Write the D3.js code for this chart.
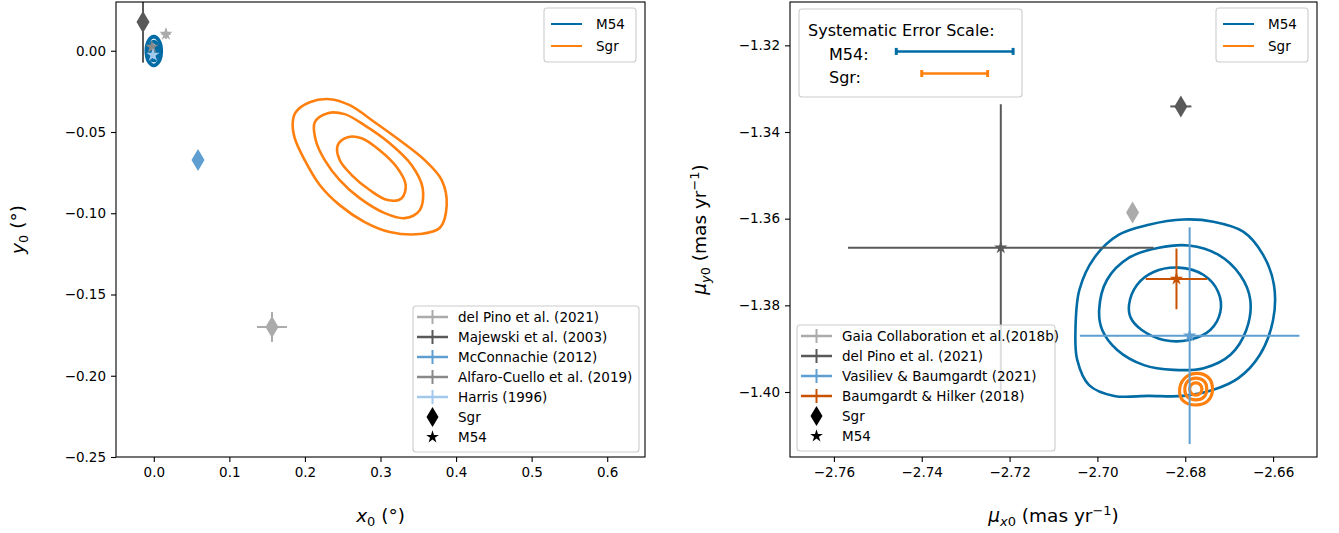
<!DOCTYPE html>
<html><head><meta charset="utf-8">
<script src="https://cdn.jsdelivr.net/npm/d3@7"></script>
<style>body{margin:0;background:#fff} text{font-family:"DejaVu Sans",sans-serif;fill:#000}</style>
</head><body><svg id="c" width="1339" height="533"></svg>
<script>
// ---------------- DATA ----------------
const leftXTicks = [0.0, 0.1, 0.2, 0.3, 0.4, 0.5, 0.6];
const leftXTickLabels = ["0.0","0.1","0.2","0.3","0.4","0.5","0.6"];
const leftYTicks = [0.00, -0.05, -0.10, -0.15, -0.20, -0.25];
const leftYTickLabels = ["0.00","\u22120.05","\u22120.10","\u22120.15","\u22120.20","\u22120.25"];
const rightXTicks = [-2.76, -2.74, -2.72, -2.70, -2.68, -2.66];
const rightXTickLabels = ["\u22122.76","\u22122.74","\u22122.72","\u22122.70","\u22122.68","\u22122.66"];
const rightYTicks = [-1.32, -1.34, -1.36, -1.38, -1.40];
const rightYTickLabels = ["\u22121.32","\u22121.34","\u22121.36","\u22121.38","\u22121.40"];

const leftDomainX = [-0.05, 0.65];
const leftDomainY = [-0.25, 0.03];
const rightDomainX = [-2.77, -2.65];
const rightDomainY = [-1.415, -1.31];

const objects = ["M54", "Sgr"];
const objectColors = ["#006BA4", "#FF800E"];

// left panel references
const leftRefs = ["del Pino et al. (2021)", "Majewski et al. (2003)", "McConnachie (2012)", "Alfaro-Cuello et al. (2019)", "Harris (1996)"];
const leftRefColors = ["#ABABAB", "#595959", "#5F9ED1", "#898989", "#A2C8EC"];
// left panel points
const leftPtRef  = [0, 0, 1, 2, 3, 4];
const leftPtObj  = ["M54", "Sgr", "Sgr", "Sgr", "M54", "M54"];
const leftPtX    = [0.0161, 0.1564, -0.0143, 0.0585, -0.0024, -0.0011];
const leftPtY    = [0.0103, -0.1700, 0.0177, -0.0672, 0.0023, -0.0026];
const leftPtXErr = [0.006, 0.0198, 0.006, 0, 0.002, 0];
const leftPtYErr = [0.003, 0.0092, 0.025, 0, 0.002, 0];

// right panel references
const rightRefs = ["Gaia Collaboration et al.(2018b)", "del Pino et al. (2021)", "Vasiliev & Baumgardt (2021)", "Baumgardt & Hilker (2018)"];
const rightRefColors = ["#ABABAB", "#595959", "#5F9ED1", "#C85200"];
const rightPtRef  = [0, 1, 1, 2, 3];
const rightPtObj  = ["Sgr", "M54", "Sgr", "M54", "M54"];
const rightPtX    = [-2.692, -2.722, -2.681, -2.679, -2.682];
const rightPtY    = [-1.3586, -1.3667, -1.3341, -1.387, -1.3739];
const rightPtXErr = [0, 0.0348, 0.0024, 0.025, 0.007];
const rightPtYErr = [0, 0.0331, 0.0005, 0.025, 0.007];

// systematic error scale
const sysLabels = ["M54:", "Sgr:"];
const sysX   = [-2.7325, -2.7325];
const sysY   = [-1.3214, -1.3265];
const sysErr = [0.0133, 0.0075];

// contours (x, y)
const leftSgrContours = [
  [[0.1878,-0.0378],[0.2063,-0.0317],[0.2328,-0.0298],[0.2593,-0.0335],[0.2923,-0.0440],[0.3254,-0.0551],[0.3585,-0.0673],[0.3810,-0.0796],[0.3876,-0.0950],[0.3783,-0.1091],[0.3519,-0.1128],[0.3122,-0.1115],[0.2791,-0.1054],[0.2460,-0.0950],[0.2196,-0.0826],[0.1997,-0.0673],[0.1865,-0.0538],[0.1839,-0.0440]],
  [[0.2130,-0.0440],[0.2302,-0.0384],[0.2526,-0.0390],[0.2791,-0.0459],[0.3122,-0.0569],[0.3413,-0.0704],[0.3558,-0.0845],[0.3519,-0.0981],[0.3320,-0.1030],[0.3056,-0.0999],[0.2725,-0.0907],[0.2460,-0.0796],[0.2262,-0.0673],[0.2143,-0.0551]],
  [[0.2434,-0.0581],[0.2566,-0.0532],[0.2751,-0.0538],[0.2989,-0.0612],[0.3214,-0.0716],[0.3333,-0.0826],[0.3280,-0.0907],[0.3095,-0.0919],[0.2857,-0.0857],[0.2619,-0.0765],[0.2460,-0.0673]]
];
const leftM54Contours = [
  [[-0.0099,-0.0002],[-0.0070,0.0061],[0,0.0087],[0.0070,0.0061],[0.0099,-0.0002],[0.0070,-0.0065],[0,-0.0091],[-0.0070,-0.0065]],
  [[-0.0062,-0.0002],[-0.0044,0.0039],[0,0.0056],[0.0044,0.0039],[0.0062,-0.0002],[0.0044,-0.0043],[0,-0.0060],[-0.0044,-0.0043]],
  [[-0.0028,-0.0002],[-0.0020,0.0019],[0,0.0028],[0.0020,0.0019],[0.0028,-0.0002],[0.0020,-0.0023],[0,-0.0032],[-0.0020,-0.0023]]
];
const rightM54Contours = [
  [[-2.7050,-1.3857],[-2.7041,-1.3764],[-2.7007,-1.3690],[-2.6951,-1.3637],[-2.6883,-1.3614],[-2.6804,-1.3602],[-2.6736,-1.3607],[-2.6668,-1.3630],[-2.6623,-1.3683],[-2.6598,-1.3753],[-2.6600,-1.3834],[-2.6630,-1.3914],[-2.6679,-1.3968],[-2.6736,-1.3995],[-2.6804,-1.4009],[-2.6883,-1.4009],[-2.6962,-1.4009],[-2.7019,-1.3984],[-2.7046,-1.3926]],
  [[-2.6996,-1.3810],[-2.6978,-1.3741],[-2.6928,-1.3690],[-2.6860,-1.3667],[-2.6792,-1.3662],[-2.6725,-1.3683],[-2.6675,-1.3730],[-2.6652,-1.3787],[-2.6661,-1.3857],[-2.6697,-1.3914],[-2.6758,-1.3945],[-2.6826,-1.3949],[-2.6894,-1.3938],[-2.6955,-1.3903],[-2.6989,-1.3857]],
  [[-2.6928,-1.3799],[-2.6910,-1.3753],[-2.6872,-1.3723],[-2.6815,-1.3713],[-2.6758,-1.3730],[-2.6725,-1.3769],[-2.6720,-1.3815],[-2.6743,-1.3857],[-2.6792,-1.3880],[-2.6849,-1.3880],[-2.6899,-1.3857],[-2.6924,-1.3829]]
];
const rightSgrContours = [
  [[-2.6813,-1.3998],[-2.6803,-1.3970],[-2.6776,-1.3957],[-2.6748,-1.3966],[-2.6738,-1.3993],[-2.6748,-1.4020],[-2.6776,-1.4030],[-2.6805,-1.4020]],
  [[-2.6801,-1.3995],[-2.6794,-1.3975],[-2.6776,-1.3968],[-2.6757,-1.3975],[-2.6751,-1.3993],[-2.6757,-1.4011],[-2.6776,-1.4018],[-2.6795,-1.4011]],
  [[-2.6790,-1.3993],[-2.6786,-1.3983],[-2.6776,-1.3979],[-2.6766,-1.3983],[-2.6762,-1.3993],[-2.6766,-1.4003],[-2.6776,-1.4007],[-2.6786,-1.4003]]
];

// ---------------- LAYOUT ----------------
const FONT = 13.5;
const LEG_FONT = 13.5;
const LABEL_FONT = 18.5;
const BOX_FONT = 16;
const PL = {x0: 116, x1: 645, y0: 2, y1: 457};
const PR = {x0: 790, x1: 1317, y0: 2, y1: 457};

const svg = d3.select("#c");
const defs = svg.append("defs");

function thinDiamond(g, cx, cy, color, w, h) {
  g.append("path").attr("d", `M${cx},${cy-h}L${cx+w},${cy}L${cx},${cy+h}L${cx-w},${cy}Z`).attr("fill", color);
}
function star(g, cx, cy, color, size) {
  g.append("path").attr("d", d3.symbol(d3.symbolStar, size)()).attr("transform", `translate(${cx},${cy})`).attr("fill", color);
}

function drawPanel(P, id, dx, dy, xt, xtl, yt, ytl) {
  const x = d3.scaleLinear().domain(dx).range([P.x0, P.x1]);
  const y = d3.scaleLinear().domain(dy).range([P.y1, P.y0]);
  defs.append("clipPath").attr("id", id).append("rect")
    .attr("x", P.x0).attr("y", P.y0).attr("width", P.x1 - P.x0).attr("height", P.y1 - P.y0);
  const gx = svg.append("g").attr("transform", `translate(0,${P.y1})`)
    .call(d3.axisBottom(x).tickValues(xt).tickFormat((d, i) => xtl[i]).tickSize(5).tickPadding(5).tickSizeOuter(0));
  const gy = svg.append("g").attr("transform", `translate(${P.x0},0)`)
    .call(d3.axisLeft(y).tickValues(yt).tickFormat((d, i) => ytl[i]).tickSize(5).tickPadding(5).tickSizeOuter(0));
  [gx, gy].forEach(g => {
    g.select(".domain").remove();
    g.selectAll("text").style("font-family", "DejaVu Sans").style("font-size", FONT + "px");
    g.selectAll("line").attr("stroke", "#000").attr("stroke-width", 1.1);
  });
  const plot = svg.append("g").attr("clip-path", `url(#${id})`);
  return {x, y, plot};
}

function drawContours(ax, sets, color, lw) {
  const line = d3.line().x(d => ax.x(d[0])).y(d => ax.y(d[1])).curve(d3.curveCatmullRomClosed.alpha(0.5));
  sets.forEach(s => ax.plot.append("path").attr("d", line(s)).attr("fill", "none").attr("stroke", color).attr("stroke-width", lw));
}

function drawPoints(ax, refs, colors, X, Y, XE, YE, OBJ) {
  const g = ax.plot.append("g");
  X.forEach((v, i) => {
    const c = colors[refs[i]];
    const cx = ax.x(v), cy = ax.y(Y[i]);
    if (XE[i] > 0) g.append("line").attr("x1", ax.x(v - XE[i])).attr("x2", ax.x(v + XE[i])).attr("y1", cy).attr("y2", cy).attr("stroke", c).attr("stroke-width", 2);
    if (YE[i] > 0) g.append("line").attr("x1", cx).attr("x2", cx).attr("y1", ax.y(Y[i] - YE[i])).attr("y2", ax.y(Y[i] + YE[i])).attr("stroke", c).attr("stroke-width", 2);
    if (OBJ[i] === "Sgr") thinDiamond(g, cx, cy, c, 6.5, 11);
    else star(g, cx, cy, c, 55);
  });
}

function frame(P) {
  svg.append("rect").attr("x", P.x0).attr("y", P.y0).attr("width", P.x1 - P.x0).attr("height", P.y1 - P.y0)
    .attr("fill", "none").attr("stroke", "#000").attr("stroke-width", 1.1);
}

function legendBox(x, y, w, h) {
  svg.append("rect").attr("x", x).attr("y", y).attr("width", w).attr("height", h).attr("rx", 3)
    .attr("fill", "#fff").attr("fill-opacity", 0.8).attr("stroke", "#cccccc").attr("stroke-width", 1.1);
}

function objLegend(x, y) {
  legendBox(x, y, 92, 54);
  objects.forEach((o, i) => {
    const yy = y + 16 + i * 22;
    svg.append("line").attr("x1", x + 7).attr("x2", x + 38).attr("y1", yy).attr("y2", yy).attr("stroke", objectColors[i]).attr("stroke-width", 2);
    svg.append("text").attr("x", x + 52).attr("y", yy + 5).style("font-size", LEG_FONT + "px").text(o);
  });
}

function refLegend(x, y, w, refs, colors) {
  const n = refs.length + 2;
  legendBox(x, y, w, n * 20 + 6);
  const g = svg.append("g");
  refs.forEach((r, i) => {
    const yy = y + 11 + i * 20;
    g.append("line").attr("x1", x + 4).attr("x2", x + 35).attr("y1", yy).attr("y2", yy).attr("stroke", colors[i]).attr("stroke-width", 2.5);
    g.append("line").attr("x1", x + 19.5).attr("x2", x + 19.5).attr("y1", yy - 7).attr("y2", yy + 7).attr("stroke", colors[i]).attr("stroke-width", 2);
    g.append("text").attr("x", x + 45).attr("y", yy + 5).style("font-size", LEG_FONT + "px").text(r);
  });
  const yS = y + 11 + refs.length * 20, yM = yS + 20;
  thinDiamond(g, x + 19.5, yS, "#000", 6, 10);
  g.append("text").attr("x", x + 45).attr("y", yS + 5).style("font-size", LEG_FONT + "px").text("Sgr");
  star(g, x + 19.5, yM, "#000", 50);
  g.append("text").attr("x", x + 45).attr("y", yM + 5).style("font-size", LEG_FONT + "px").text("M54");
}

function mathLabel(x, y, rotate, parts) {
  const t = svg.append("text").attr("text-anchor", "middle").style("font-size", LABEL_FONT + "px")
    .attr("transform", `translate(${x},${y})` + (rotate ? " rotate(-90)" : ""));
  parts.forEach(p => {
    const s = t.append("tspan").text(p.t);
    if (p.i) s.style("font-style", "italic");
    if (p.small) s.style("font-size", (LABEL_FONT * 0.7) + "px");
    if (p.dy) s.attr("dy", p.dy);
  });
}

// ---------- LEFT PANEL ----------
const A = drawPanel(PL, "clipL", leftDomainX, leftDomainY, leftXTicks, leftXTickLabels, leftYTicks, leftYTickLabels);
drawContours(A, leftSgrContours, objectColors[1], 2.6);
drawContours(A, leftM54Contours, objectColors[0], 3.6);
drawPoints(A, leftPtRef, leftRefColors, leftPtX, leftPtY, leftPtXErr, leftPtYErr, leftPtObj);
frame(PL);
objLegend(PL.x1 - 101, PL.y0 + 6);
refLegend(413, 306, 226, leftRefs, leftRefColors);
mathLabel((PL.x0 + PL.x1) / 2, 522, false, [{t: "x", i: true}, {t: "0", small: true, dy: 4}, {t: " (\u00b0)", dy: -4}]);
mathLabel(24, (PL.y0 + PL.y1) / 2, true, [{t: "y", i: true}, {t: "0", small: true, dy: 4}, {t: " (\u00b0)", dy: -4}]);

// ---------- RIGHT PANEL ----------
const B = drawPanel(PR, "clipR", rightDomainX, rightDomainY, rightXTicks, rightXTickLabels, rightYTicks, rightYTickLabels);
drawContours(B, rightM54Contours, objectColors[0], 2.6);
drawContours(B, rightSgrContours, objectColors[1], 3.2);
drawPoints(B, rightPtRef, rightRefColors, rightPtX, rightPtY, rightPtXErr, rightPtYErr, rightPtObj);
frame(PR);
objLegend(PR.x1 - 101, PR.y0 + 6);
refLegend(PR.x0 + 7, 325, 258, rightRefs, rightRefColors);

// systematic error box
legendBox(PR.x0 + 9, PR.y0 + 7, 223, 88);
svg.append("text").attr("x", PR.x0 + 18).attr("y", PR.y0 + 34).style("font-size", BOX_FONT + "px").text("Systematic Error Scale:");
sysLabels.forEach((l, i) => {
  const c = objectColors[i];
  const cy = B.y(sysY[i]);
  svg.append("text").attr("x", PR.x0 + 39).attr("y", cy + 9).style("font-size", BOX_FONT + "px").text(l);
  svg.append("line").attr("x1", B.x(sysX[i] - sysErr[i])).attr("x2", B.x(sysX[i] + sysErr[i])).attr("y1", cy).attr("y2", cy).attr("stroke", c).attr("stroke-width", 2.5);
  [sysX[i] - sysErr[i], sysX[i] + sysErr[i]].forEach(e => svg.append("line").attr("x1", B.x(e)).attr("x2", B.x(e)).attr("y1", cy - 3.5).attr("y2", cy + 3.5).attr("stroke", c).attr("stroke-width", 3));
});

mathLabel((PR.x0 + PR.x1) / 2, 522, false, [{t: "\u03bc", i: true}, {t: "x", i: true, small: true, dy: 4}, {t: "0", small: true}, {t: " (mas yr", dy: -4}, {t: "\u22121", small: true, dy: -7}, {t: ")", dy: 7}]);
mathLabel(706, (PR.y0 + PR.y1) / 2, true, [{t: "\u03bc", i: true}, {t: "y", i: true, small: true, dy: 4}, {t: "0", small: true}, {t: " (mas yr", dy: -4}, {t: "\u22121", small: true, dy: -7}, {t: ")", dy: 7}]);
</script></body></html>
